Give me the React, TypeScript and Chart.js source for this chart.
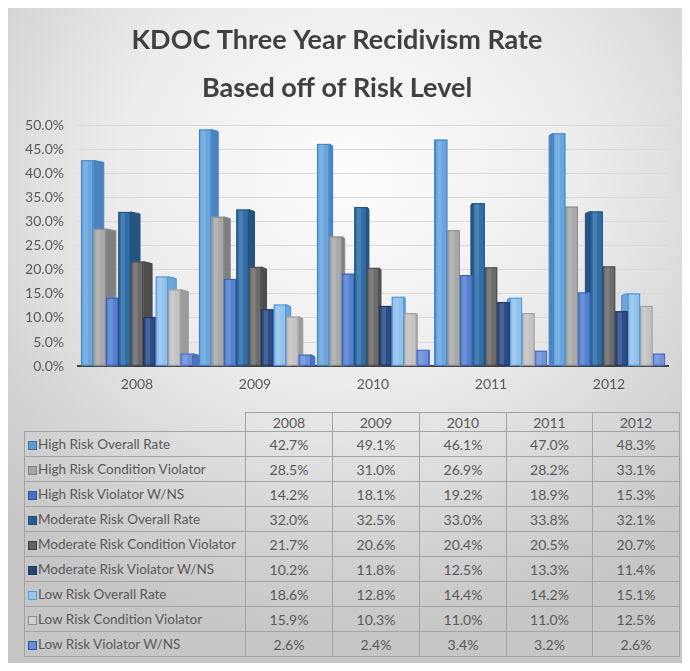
import React, { useEffect, useRef } from "react";
import { Chart, registerables } from "chart.js";

Chart.register(...registerables);

const years = ["2008", "2009", "2010", "2011", "2012"];
const seriesNames = [
  "High Risk Overall Rate",
  "High Risk Condition Violator",
  "High Risk Violator W/NS",
  "Moderate Risk Overall Rate",
  "Moderate Risk Condition Violator",
  "Moderate Risk Violator W/NS",
  "Low Risk Overall Rate",
  "Low Risk Condition Violator",
  "Low Risk Violator W/NS",
];
const highOverall = [42.7, 49.1, 46.1, 47.0, 48.3];
const highCond = [28.5, 31.0, 26.9, 28.2, 33.1];
const highWNS = [14.2, 18.1, 19.2, 18.9, 15.3];
const modOverall = [32.0, 32.5, 33.0, 33.8, 32.1];
const modCond = [21.7, 20.6, 20.4, 20.5, 20.7];
const modWNS = [10.2, 11.8, 12.5, 13.3, 11.4];
const lowOverall = [18.6, 12.8, 14.4, 14.2, 15.1];
const lowCond = [15.9, 10.3, 11.0, 11.0, 12.5];
const lowWNS = [2.6, 2.4, 3.4, 3.2, 2.6];
const seriesValues = [highOverall, highCond, highWNS, modOverall, modCond, modWNS, lowOverall, lowCond, lowWNS];

const fillColors = ["#6aa5de", "#a9a9a9", "#5580d0", "#2f6ea6", "#6b6b6b", "#2d4c86", "#92c2ec", "#c3c3c3", "#6d91da"];
const borderColors = ["#3d85c6", "#8a8a8a", "#3a62b0", "#1f4e79", "#4a4a4a", "#1c345f", "#4a94d8", "#9a9a9a", "#4469c0"];
const sideColors = ["#4a83bd", "#808080", "#3d63ad", "#24547f", "#4d4d4d", "#213a66", "#6fa4d6", "#9c9c9c", "#5070b8"];
const markerColors = ["#5b9bd5", "#a5a5a5", "#4472c4", "#255e91", "#636363", "#264478", "#9dc3e6", "#d0d0d0", "#698ed0"];
const markerBorders = ["#41719c", "#7f7f7f", "#2f5597", "#1f4e79", "#404040", "#1f3864", "#5b9bd5", "#8c8c8c", "#2f5597"];

const titleLines = ["KDOC Three Year Recidivism Rate", "Based off of Risk Level"];

const bar3d = {
  id: "bar3d",
  afterDatasetsDraw(chart: any) {
    const ctx = chart.ctx;
    const area = chart.chartArea;
    const vanish = area.left + (area.right - area.left) * 0.6;
    const items: any[] = [];
    chart.data.datasets.forEach((_ds: any, i: number) => {
      const meta = chart.getDatasetMeta(i);
      meta.data.forEach((el: any) => {
        items.push({ p: el.getProps(["x", "y", "base", "width"], true), i });
      });
    });
    items.sort((a, b) => Math.abs(b.p.x - vanish) - Math.abs(a.p.x - vanish));
    ctx.save();
    ctx.lineWidth = 1;
    for (const it of items) {
      const { p, i } = it;
      const left = p.x - p.width / 2;
      const right = p.x + p.width / 2;
      const dx = (vanish - p.x) * 0.03;
      const edge = dx >= 0 ? right : left;
      // side face
      ctx.beginPath();
      ctx.moveTo(edge, p.y);
      ctx.lineTo(edge + dx, p.y + 2);
      ctx.lineTo(edge + dx, p.base);
      ctx.lineTo(edge, p.base);
      ctx.closePath();
      ctx.fillStyle = sideColors[i];
      ctx.fill();
      ctx.strokeStyle = borderColors[i];
      ctx.stroke();
      // front face
      ctx.fillStyle = fillColors[i];
      ctx.fillRect(left, p.y, p.width, p.base - p.y);
      ctx.fillStyle = "rgba(255,255,255,0.13)";
      ctx.fillRect(left + p.width * 0.2, p.y, p.width * 0.35, p.base - p.y);
      ctx.strokeStyle = borderColors[i];
      ctx.strokeRect(left + 0.5, p.y + 0.5, p.width - 1, p.base - p.y - 1);
    }
    ctx.restore();
  },
};

export default function App() {
  const canvasRef = useRef<HTMLCanvasElement | null>(null);

  useEffect(() => {
    if (!canvasRef.current) return;
    const chart = new Chart(canvasRef.current, {
      type: "bar",
      data: {
        labels: years,
        datasets: seriesValues.map((vals, i) => ({
          label: seriesNames[i],
          data: vals,
          backgroundColor: "rgba(0,0,0,0)",
          borderWidth: 0,
          categoryPercentage: 0.95,
          barPercentage: 1.0,
        })),
      },
      options: {
        animation: false,
        responsive: false,
        maintainAspectRatio: false,
        layout: { padding: { left: 0, right: 22, top: 0, bottom: 4 } },
        plugins: {
          legend: { display: false },
          tooltip: { enabled: false },
          title: {
            display: true,
            text: titleLines,
            color: "#404040",
            font: { family: "Lato", size: 27, weight: "bold", lineHeight: 1.78 },
            padding: { top: 9, bottom: 13 },
          },
        },
        scales: {
          x: {
            grid: { display: false, drawTicks: false },
            border: { display: true, color: "#404040", width: 2 },
            ticks: { color: "#595959", font: { family: "Lato", size: 14 }, padding: 10 },
          },
          y: {
            min: 0,
            max: 50,
            ticks: {
              stepSize: 5,
              color: "#595959",
              font: { family: "Lato", size: 14 },
              padding: 14,
              callback: (v: any) => Number(v).toFixed(1) + "%",
            },
            grid: { color: "#d9d9d9", drawTicks: false, lineWidth: 1 },
            border: { display: false },
            afterFit: (s: any) => {
              s.width = 72;
            },
          },
        },
      },
      plugins: [bar3d],
    } as any);
    return () => chart.destroy();
  }, []);

  const colW = [221, 87, 87, 87, 86, 87];
  const cellBorder = "1px solid #a3a3a3";
  const font = "Lato, 'Open Sans', sans-serif";

  return (
    <div style={{ position: "relative", width: 690, height: 671, margin: -8, overflow: "hidden", background: "#ffffff" }}>
      <div
        style={{
          position: "absolute",
          left: 6,
          top: 7,
          width: 690,
          height: 670,
          border: "1px solid #cfcfcf",
          background: "radial-gradient(ellipse 75% 70% at 50% 25%, #fdfdfd 0%, #ececec 45%, #d2d2d2 80%, #c6c6c6 100%)",
        }}
      />
      <canvas ref={canvasRef} width={684} height={400} style={{ position: "absolute", left: 6, top: 7, width: 684, height: 400 }} />
      <table
        style={{
          position: "absolute",
          left: 24,
          top: 412,
          borderCollapse: "collapse",
          tableLayout: "fixed",
          width: colW.reduce((a, b) => a + b, 0),
          fontFamily: font,
          fontSize: 14,
          color: "#595959",
        }}
      >
        <colgroup>
          {colW.map((w, i) => (
            <col key={i} style={{ width: w }} />
          ))}
        </colgroup>
        <tbody>
          <tr style={{ height: 19 }}>
            <td style={{ padding: 0 }} />
            {years.map((y) => (
              <td key={y} style={{ border: cellBorder, textAlign: "center", padding: 0, lineHeight: "17px" }}>
                {y}
              </td>
            ))}
          </tr>
          {seriesNames.map((name, i) => (
            <tr key={name} style={{ height: 25 }}>
              <td style={{ border: cellBorder, padding: "0 0 0 3px", whiteSpace: "nowrap", lineHeight: "23px", fontSize: 13.5 }}>
                <span
                  style={{
                    display: "inline-block",
                    width: 7,
                    height: 7,
                    background: markerColors[i],
                    border: `1px solid ${markerBorders[i]}`,
                    marginRight: 1,
                    verticalAlign: "-1px",
                  }}
                />
                {name}
              </td>
              {seriesValues[i].map((v, j) => (
                <td key={j} style={{ border: cellBorder, textAlign: "center", padding: 0, lineHeight: "23px" }}>
                  {v.toFixed(1) + "%"}
                </td>
              ))}
            </tr>
          ))}
        </tbody>
      </table>
    </div>
  );
}
